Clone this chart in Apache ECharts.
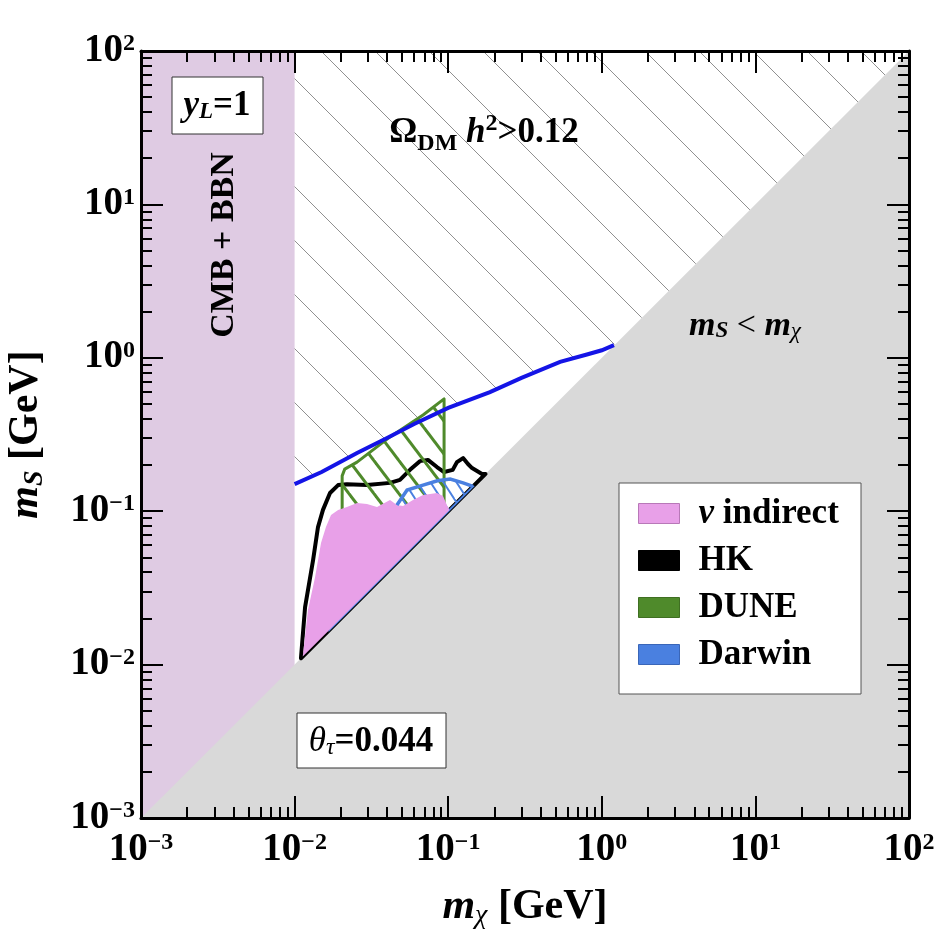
<!DOCTYPE html>
<html><head><meta charset="utf-8">
<script src="https://cdn.jsdelivr.net/npm/echarts@6/dist/echarts.min.js"></script>
<style>html,body{margin:0;padding:0;background:#fff}#c{width:937px;height:937px}</style>
</head><body><div id="c"></div>
<script>
// ---------- data ----------
const tickExps = [-3, -2, -1, 0, 1, 2];
const minorMultipliers = [2, 3, 4, 5, 6, 7, 8, 9];
const axisMin = 0.001, axisMax = 100;

// CMB + BBN excluded band
const cmbX = [0.001, 0.01, 0.01, 0.001];
const cmbY = [0.001, 0.001, 100, 100];
// m_S < m_chi region
const kinX = [0.001, 100, 100];
const kinY = [0.001, 100, 0.001];
// relic-abundance line (Omega h^2 = 0.12)
const relicX = [0.01, 0.015, 0.0255, 0.04, 0.06, 0.1, 0.187, 0.3, 0.535, 0.8, 1.0, 1.2];
const relicY = [0.15, 0.18, 0.2395, 0.30, 0.37, 0.471, 0.598, 0.74, 0.94, 1.05, 1.12, 1.21];
// over-abundant corner points (top edge)
const overX = [0.01, 100];
const overY = [100, 100];
// HK contour
const hkX = [0.011, 0.0117, 0.0132, 0.0142, 0.0153, 0.017, 0.0192, 0.0219, 0.0296, 0.0418, 0.0485, 0.0564, 0.0654, 0.0738, 0.0845, 0.094, 0.107, 0.114, 0.125, 0.1345, 0.143, 0.166, 0.175];
const hkY = [0.011, 0.0237, 0.0481, 0.0788, 0.102, 0.1315, 0.148, 0.150, 0.148, 0.153, 0.160, 0.186, 0.212, 0.216, 0.194, 0.180, 0.186, 0.209, 0.222, 0.203, 0.191, 0.175, 0.175];
// DUNE region
const duneX = [0.0204, 0.0204, 0.0212, 0.0255, 0.0418, 0.0686, 0.094, 0.094];
const duneY = [0.10, 0.17, 0.188, 0.209, 0.305, 0.424, 0.54, 0.10];
// Darwin region
const darwinX = [0.0172, 0.025, 0.035, 0.0464, 0.054, 0.0686, 0.085, 0.103, 0.125, 0.145];
const darwinY = [0.0172, 0.045, 0.075, 0.1096, 0.1375, 0.148, 0.158, 0.162, 0.153, 0.145];
const darwinArcFrom = 3;
// nu indirect region
const nuX = [0.0113, 0.01222, 0.0136, 0.01486, 0.016, 0.01726, 0.0192, 0.0219, 0.0255, 0.0296, 0.0344, 0.0418, 0.0464, 0.0508, 0.059, 0.0686, 0.0845, 0.0925, 0.098, 0.102];
const nuY = [0.0113, 0.0227, 0.0372, 0.0621, 0.0788, 0.0944, 0.102, 0.1065, 0.113, 0.1114, 0.1065, 0.1184, 0.1096, 0.108, 0.1184, 0.1277, 0.1315, 0.1255, 0.1096, 0.102];

// ---------- styling ----------
const FONT = 'Liberation Serif';
const C = {cmb:'#dfcbe3', kin:'#d9d9d9', relic:'#1414e6', hk:'#000000', dune:'#4f8a2b', darwin:'#4a80e0', nu:'#e8a0e8'};

function makeHatch(d, slope, color, width) {
  const h = Math.round(d * slope);
  const c = document.createElement('canvas'); c.width = d; c.height = h;
  const g = c.getContext('2d'); g.strokeStyle = color; g.lineWidth = width;
  for (const k of [-1, 0, 1]) { g.beginPath(); g.moveTo(k*d - d, -h); g.lineTo(k*d + 2*d, 2*h); g.stroke(); }
  return c;
}
const grayHatch = makeHatch(54, 1.0, '#909090', 1);
const greenHatch = makeHatch(25, 1.3, C.dune, 3);
const blueHatch = makeHatch(13, 1.5, C.darwin, 2);

function shapeSeries(name, xs, ys, style, kind) {
  const st = Object.assign({}, style); delete st.legendColor;
  return {
    type: 'custom', name, coordinateSystem: 'cartesian2d', xAxisIndex: 0, yAxisIndex: 0,
    silent: true, animation: false,
    itemStyle: {color: style.legendColor || (typeof style.fill === 'string' ? style.fill : style.stroke)},
    data: xs.map((x, i) => [x, ys[i]]),
    renderItem: (params, api) => {
      if (params.dataIndex !== 0) return null;
      const pts = xs.map((x, i) => api.coord([x, ys[i]]));
      return {type: kind || 'polygon', shape: {points: pts}, style: st};
    }
  };
}

const overPolyX = overX.concat(relicX.slice().reverse());
const overPolyY = overY.concat(relicY.slice().reverse());

const series = [
  shapeSeries('CMB', cmbX, cmbY, {fill: C.cmb}),
  shapeSeries('kin', kinX, kinY, {fill: C.kin}),
  shapeSeries('over', overPolyX, overPolyY, {fill: {image: grayHatch, repeat: 'repeat'}}),
  shapeSeries('HK', hkX, hkY, {fill: 'none', stroke: C.hk, lineWidth: 4, lineJoin: 'round', legendColor: C.hk}),
  shapeSeries('DUNE', duneX, duneY, {fill: {image: greenHatch, repeat: 'repeat'}, stroke: C.dune, lineWidth: 3, lineJoin: 'round', legendColor: C.dune}),
  shapeSeries('DarwinFill', darwinX, darwinY, {fill: {image: blueHatch, repeat: 'repeat'}, stroke: C.darwin, lineWidth: 2}),
  shapeSeries('ν indirect', nuX, nuY, {fill: C.nu, legendColor: C.nu}),
  shapeSeries('Darwin', darwinX.slice(darwinArcFrom), darwinY.slice(darwinArcFrom), {fill: 'none', stroke: C.darwin, lineWidth: 3.5, legendColor: C.darwin}, 'polyline'),
  shapeSeries('relic', relicX, relicY, {fill: 'none', stroke: C.relic, lineWidth: 4}, 'polyline')
];

// ---------- axes ----------
const majorVals = tickExps.map(e => Math.pow(10, e));
const minorVals = [];
tickExps.slice(0, -1).forEach(e => minorMultipliers.forEach(m => minorVals.push(m * Math.pow(10, e))));

const labelRich = {
  b: {fontFamily: FONT, fontWeight: 'bold', fontSize: 39, color: '#000', lineHeight: 38, verticalAlign: 'bottom'},
  s: {fontFamily: FONT, fontWeight: 'bold', fontSize: 24, color: '#000', lineHeight: 24, padding: [0, 0, 20, 0], verticalAlign: 'top'}
};
const expFmt = v => { const e = Math.round(Math.log10(v)); return '{b|10}{s|' + (e < 0 ? '\u2212' + (-e) : e) + '}'; };

function axis(dim, pos, major, show) {
  const base = {
    type: 'log', logBase: 10, min: axisMin, max: axisMax, position: pos,
    splitLine: {show: false}, minorTick: {show: false}, minorSplitLine: {show: false},
    axisLine: {show: major, onZero: false, lineStyle: {color: '#000', width: 3}},
    axisTick: {show: true, inside: true, length: major ? 22 : 11, customValues: major ? majorVals : minorVals,
      lineStyle: {color: '#000', width: 2}},
    axisLabel: {show: false},
    z: 10
  };
  if (show) {
    base.axisLabel = {show: true, customValues: majorVals, formatter: expFmt, rich: labelRich,
      margin: dim === 'x' ? 13 : 6, showMinLabel: true, showMaxLabel: true};
  }
  return base;
}

const xAxes = [axis('x', 'bottom', true, true), axis('x', 'bottom', false, false), axis('x', 'top', true, false), axis('x', 'top', false, false)];
const yAxes = [axis('y', 'left', true, true), axis('y', 'left', false, false), axis('y', 'right', true, false), axis('y', 'right', false, false)];

const nameRich = {
  m: {fontFamily: FONT, fontStyle: 'italic', fontWeight: 'bold', fontSize: 42, color: '#000', lineHeight: 44, verticalAlign: 'top'},
  sub: {fontFamily: FONT, fontStyle: 'italic', fontWeight: 'bold', fontSize: 28, color: '#000', lineHeight: 28, padding: [22, 0, 0, 0], verticalAlign: 'bottom'},
  subn: {fontFamily: FONT, fontStyle: 'italic', fontSize: 28, color: '#000', lineHeight: 28, padding: [22, 0, 0, 0], verticalAlign: 'bottom'},
  b: {fontFamily: FONT, fontWeight: 'bold', fontSize: 42, color: '#000', lineHeight: 44, verticalAlign: 'top'}
};
xAxes[0].name = '{m|m}{subn|\u03c7}{b| [GeV]}';
xAxes[0].nameLocation = 'middle'; xAxes[0].nameGap = 63; xAxes[0].nameTextStyle = {fontSize: 42, fontFamily: FONT, rich: nameRich};
yAxes[0].name = '{m|m}{sub|S}{b| [GeV]}';
yAxes[0].nameLocation = 'middle'; yAxes[0].nameGap = 92; yAxes[0].nameTextStyle = {fontSize: 42, fontFamily: FONT, rich: nameRich};

// ---------- annotations ----------
const T = (o) => Object.assign({fontFamily: FONT, fill: '#000'}, o);
const graphics = [
  {type: 'rect', shape: {x: 172, y: 77, width: 91, height: 57}, style: {fill: '#fff', stroke: '#333', lineWidth: 1}, z: 20},
  {type: 'text', x: 217, y: 106, z: 21, style: T({
    text: '{i|y}{isub|L}{b|=1}', align: 'center', verticalAlign: 'middle',
    rich: {
      i: {fontFamily: FONT, fontStyle: 'italic', fontWeight: 'bold', fontSize: 35, lineHeight: 36, verticalAlign: 'top'},
      isub: {fontFamily: FONT, fontStyle: 'italic', fontWeight: 'bold', fontSize: 23, lineHeight: 23, padding: [18, 0, 0, 0], verticalAlign: 'bottom'},
      b: {fontFamily: FONT, fontWeight: 'bold', fontSize: 35, lineHeight: 36, verticalAlign: 'top'}
    }})},
  {type: 'text', x: 224, y: 245, rotation: Math.PI / 2, z: 21, style: T({
    text: 'CMB + BBN', fontSize: 34, fontWeight: 'bold', align: 'center', verticalAlign: 'middle'})},
  {type: 'text', x: 484, y: 133, z: 21, style: T({
    text: '{b|\u03a9}{sub|DM}{i| h}{sup|2}{b|>0.12}', align: 'center', verticalAlign: 'middle',
    rich: {
      b: {fontFamily: FONT, fontWeight: 'bold', fontSize: 35, lineHeight: 36, verticalAlign: 'middle'},
      i: {fontFamily: FONT, fontStyle: 'italic', fontWeight: 'bold', fontSize: 35, lineHeight: 36, verticalAlign: 'middle'},
      sub: {fontFamily: FONT, fontWeight: 'bold', fontSize: 24, lineHeight: 24, padding: [22, 0, 0, 0], verticalAlign: 'middle'},
      sup: {fontFamily: FONT, fontWeight: 'bold', fontSize: 24, lineHeight: 24, padding: [0, 0, 18, 0], verticalAlign: 'middle'}
    }})},
  {type: 'text', x: 745, y: 326, z: 21, style: T({
    text: '{i|m}{sub|S}{r| < }{i|m}{subn|\u03c7}', align: 'center', verticalAlign: 'middle',
    rich: {
      i: {fontFamily: FONT, fontStyle: 'italic', fontWeight: 'bold', fontSize: 34, lineHeight: 34, verticalAlign: 'top'},
      r: {fontFamily: FONT, fontSize: 34, lineHeight: 34, verticalAlign: 'top'},
      sub: {fontFamily: FONT, fontStyle: 'italic', fontWeight: 'bold', fontSize: 23, lineHeight: 23, padding: [17, 0, 0, 0], verticalAlign: 'bottom'},
      subn: {fontFamily: FONT, fontStyle: 'italic', fontSize: 23, lineHeight: 23, padding: [17, 0, 0, 0], verticalAlign: 'bottom'}
    }})},
  {type: 'rect', shape: {x: 297, y: 713, width: 149, height: 55}, style: {fill: '#fff', stroke: '#333', lineWidth: 1}, z: 20},
  {type: 'text', x: 371, y: 742, z: 21, style: T({
    text: '{i|\u03b8}{sub|\u03c4}{b|=0.044}', align: 'center', verticalAlign: 'middle',
    rich: {
      i: {fontFamily: FONT, fontStyle: 'italic', fontSize: 35, lineHeight: 35, verticalAlign: 'top'},
      sub: {fontFamily: FONT, fontStyle: 'italic', fontSize: 24, lineHeight: 24, padding: [18, 0, 0, 0], verticalAlign: 'bottom'},
      b: {fontFamily: FONT, fontWeight: 'bold', fontSize: 35, lineHeight: 35, verticalAlign: 'top'}
    }})},
  {type: 'rect', shape: {x: 619, y: 483, width: 242, height: 211}, style: {fill: '#fff', stroke: '#555', lineWidth: 1}, z: 20}
];

const legendNames = ['ν indirect', 'HK', 'DUNE', 'Darwin'];
const legendColors = [C.nu, C.hk, C.dune, C.darwin];
const legendBorders = ['#b878b8', '#000', '#3f6f22', '#3a66b8'];

const chart = echarts.init(document.getElementById('c'), null, {renderer: 'canvas'});
chart.setOption({
  animation: false,
  backgroundColor: '#fff',
  grid: {left: 141, top: 51, width: 768, height: 767, containLabel: false, outerBoundsMode: 'none'},
  xAxis: xAxes,
  yAxis: yAxes,
  legend: {
    left: 633, top: 491, orient: 'vertical', itemWidth: 41, itemHeight: 20, itemGap: 12, z: 30,
    selectedMode: false,
    data: legendNames.map((n, i) => ({name: n, icon: 'rect', itemStyle: {color: legendColors[i], borderColor: legendBorders[i], borderWidth: 1}})),
    formatter: n => n === 'ν indirect' ? '{i|ν}{r| indirect}' : n,
    textStyle: {fontFamily: FONT, fontWeight: 'bold', fontSize: 35, color: '#000', padding: [0, 0, 0, 14],
      rich: {i: {fontFamily: FONT, fontStyle: 'italic', fontSize: 35, color: '#000'},
             r: {fontFamily: FONT, fontWeight: 'bold', fontSize: 35, color: '#000'}}}
  },
  graphic: graphics,
  series: series
});
</script></body></html>
